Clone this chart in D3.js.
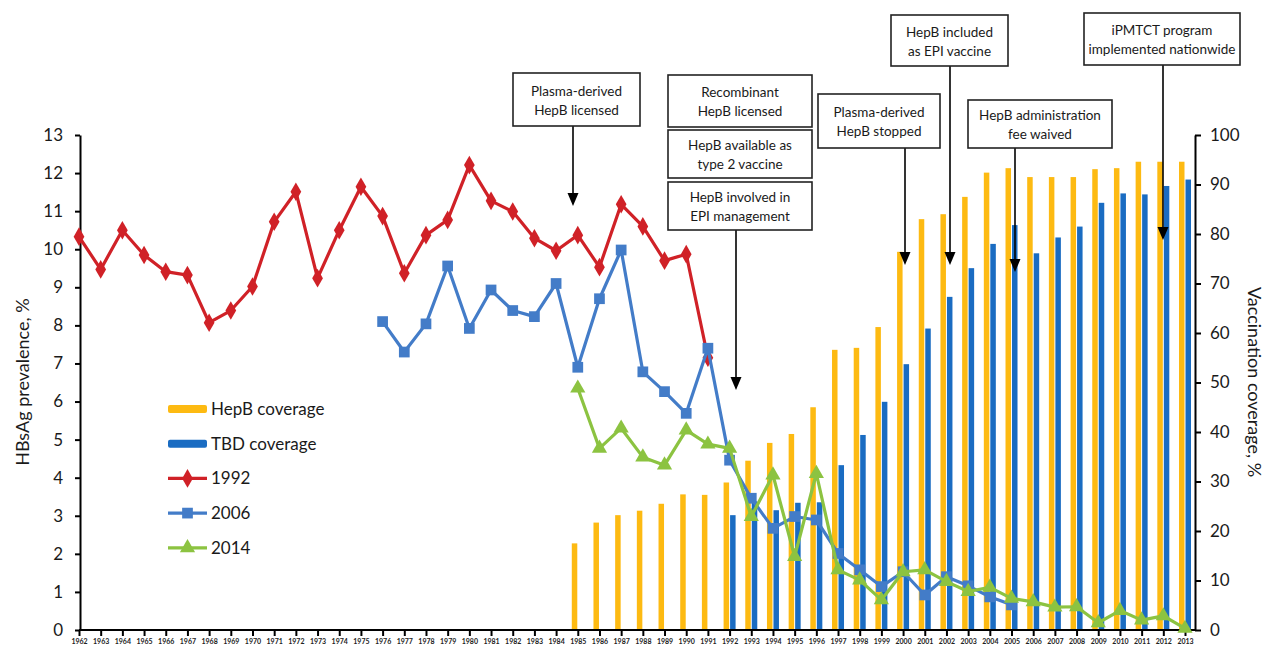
<!DOCTYPE html>
<html>
<head>
<meta charset="utf-8">
<script src="https://cdn.jsdelivr.net/npm/d3@7/dist/d3.min.js"></script>
<style>
	body { margin: 0; background: #fff; }
	svg text { font-family: Lato, "Open Sans", sans-serif; fill: #1a1a1a; }
</style>
</head>
<body>
<svg id="chart" width="1267" height="649"></svg>
<script>
// Birth-year categories on the x axis
const years = d3.range(1962, 2014);

// HBsAg prevalence (%) by birth year, one array per serosurvey
const years1992 = d3.range(1962, 1992);
const prev1992 = [10.33, 9.47, 10.5, 9.85, 9.41, 9.32, 8.07, 8.39, 9.02, 10.72, 11.51, 9.24, 10.5, 11.64, 10.87,
	9.37, 10.37, 10.77, 12.21, 11.27, 10.99, 10.29, 9.96, 10.37, 9.53, 11.18, 10.6, 9.7, 9.87, 7.15];
const years2006 = d3.range(1976, 2006);
const prev2006 = [8.1, 7.3, 8.04, 9.56, 7.92, 8.93, 8.39, 8.23, 9.1, 6.9, 8.7, 9.98, 6.78, 6.26, 5.69, 7.4,
	4.46, 3.46, 2.67, 2.98, 2.89, 2.01, 1.58, 1.14, 1.53, 0.92, 1.4, 1.16, 0.87, 0.66];
const years2014 = d3.range(1985, 2014);
const prev2014 = [6.35, 4.77, 5.3, 4.54, 4.33, 5.25, 4.88, 4.77, 2.98, 4.07, 1.93, 4.11, 1.58, 1.31, 0.79,
	1.53, 1.58, 1.27, 1.01, 1.12, 0.83, 0.74, 0.6, 0.61, 0.19, 0.51, 0.26, 0.37, 0.04];

// Vaccination coverage (%)
const hepbYears = d3.range(1985, 2014);
const hepbCoverage = [17.5, 21.7, 23.2, 24.1, 25.5, 27.4, 27.3, 29.8, 34.2, 37.8, 39.6, 45.0, 56.6, 57.0, 61.2,
	76.4, 83.0, 84.0, 87.5, 92.4, 93.3, 91.5, 91.5, 91.5, 93.1, 93.3, 94.6, 94.6, 94.6];
const tbdYears = d3.range(1992, 2014);
const tbdCoverage = [23.2, 26.0, 24.2, 25.7, 25.8, 33.3, 39.4, 46.1, 53.7, 60.9, 67.3, 73.1, 78.0, 81.8,
	76.1, 79.3, 81.5, 86.3, 88.2, 88.0, 89.7, 91.0];

// Axis ticks
const leftTicks = d3.range(0, 14);
const rightTicks = d3.range(0, 101, 10);

// Event annotations
const events = [
	['Plasma-derived', 'HepB licensed'],
	['Recombinant', 'HepB licensed'],
	['HepB available as', 'type 2 vaccine'],
	['HepB involved in', 'EPI management'],
	['Plasma-derived', 'HepB stopped'],
	['HepB included', 'as EPI vaccine'],
	['HepB administration', 'fee waived'],
	['iPMTCT program', 'implemented nationwide']
];
// box layout [x0, y0, x1, y1, arrowX, arrowTipY] (arrowX null = no arrow)
const eventLayout = [
	[513, 73, 640, 126, 573, 206],
	[668, 75, 812, 127, null, null],
	[668, 130, 812, 178, null, null],
	[668, 182, 812, 230, 736, 390],
	[818, 94, 940, 148, 905, 265],
	[891, 15, 1008, 66, 950, 265],
	[968, 100, 1112, 148, 1015, 272],
	[1084, 13, 1240, 65, 1163, 240]
];

const colors = {
	hepb: '#FDBA12',
	tbd: '#1A6CC2',
	s1992: '#D02127',
	s2006: '#437CC8',
	s2014: '#8CC341'
};

const svg = d3.select('#chart');
svg.append('rect').attr('width', 1267).attr('height', 649).attr('fill', '#fff');

const x = d3.scalePoint().domain(years).range([79, 1185]);
const yL = d3.scaleLinear().domain([0, 13]).range([630, 135]);
const yR = d3.scaleLinear().domain([0, 100]).range([630, 135]);
const barW = 5.5;

// Bars
svg.append('g').selectAll('rect')
	.data(hepbYears.map((yr, i) => ({ yr, v: hepbCoverage[i] })))
	.join('rect')
		.attr('x', d => x(d.yr) - barW - 0.5)
		.attr('y', d => yR(d.v))
		.attr('width', barW)
		.attr('height', d => yR(0) - yR(d.v))
		.attr('fill', colors.hepb);

svg.append('g').selectAll('rect')
	.data(tbdYears.map((yr, i) => ({ yr, v: tbdCoverage[i] })))
	.join('rect')
		.attr('x', d => x(d.yr) + 0.5)
		.attr('y', d => yR(d.v))
		.attr('width', barW)
		.attr('height', d => yR(0) - yR(d.v))
		.attr('fill', colors.tbd);

// Axes
const axisBottom = svg.append('g')
	.attr('transform', 'translate(0,630)')
	.call(d3.axisBottom(x).tickSize(6).tickSizeOuter(0));
axisBottom.select('.domain').attr('d', 'M79,0H1195').attr('stroke', '#000').attr('stroke-width', 2);
axisBottom.selectAll('.tick line').attr('stroke', '#000').attr('stroke-width', 2);

const axisLeft = svg.append('g')
	.attr('transform', 'translate(80,0)')
	.call(d3.axisLeft(yL).tickValues(leftTicks).tickSize(5).tickSizeOuter(0));
axisLeft.select('.domain').attr('stroke', '#000').attr('stroke-width', 2);
axisLeft.selectAll('.tick line').attr('stroke', '#000').attr('stroke-width', 2);
axisLeft.selectAll('.tick text').attr('x', -17).style('font-size', '17px');

const axisRight = svg.append('g')
	.attr('transform', 'translate(1195,0)')
	.call(d3.axisRight(yR).tickValues(rightTicks).tickSize(6).tickSizeOuter(0));
axisRight.select('.domain').attr('stroke', '#000').attr('stroke-width', 2);
axisRight.selectAll('.tick line').attr('stroke', '#000').attr('stroke-width', 2);
axisRight.selectAll('.tick text').attr('x', 15).style('font-size', '17px');

svg.selectAll('.tick text').attr('fill', null);
axisBottom.selectAll('.tick text')
	.attr('y', 9)
	.style('font-size', '7px')
	.style('font-weight', 'bold')
	.style('fill', '#222');

// Axis titles
svg.append('text')
	.attr('transform', 'translate(29,382) rotate(-90)')
	.attr('text-anchor', 'middle')
	.style('font-size', '18px')
	.text('HBsAg prevalence, %');
svg.append('text')
	.attr('transform', 'translate(1248,382) rotate(90)')
	.attr('text-anchor', 'middle')
	.style('font-size', '18px')
	.text('Vaccination coverage, %');

// Marker paths
const marker = {
	diamond: d3.symbol().type(d3.symbolDiamond).size(100),
	square: d3.symbol().type(d3.symbolSquare).size(115),
	triangle: d3.symbol().type(d3.symbolTriangle).size(100)
};

const series = [
	{ yrs: years1992, vals: prev1992, color: colors.s1992, sym: marker.diamond },
	{ yrs: years2006, vals: prev2006, color: colors.s2006, sym: marker.square },
	{ yrs: years2014, vals: prev2014, color: colors.s2014, sym: marker.triangle }
];

const line = d3.line().x(d => x(d.yr)).y(d => yL(d.v));

for (const s of series) {
	const pts = s.yrs.map((yr, i) => ({ yr, v: s.vals[i] }));
	const g = svg.append('g');
	g.append('path')
		.datum(pts)
		.attr('d', line)
		.attr('fill', 'none')
		.attr('stroke', s.color)
		.attr('stroke-width', 3.2)
		.attr('stroke-linejoin', 'round');
	g.selectAll('path.pt')
		.data(pts)
		.join('path')
			.attr('class', 'pt')
			.attr('d', s.sym)
			.attr('transform', d => 'translate(' + x(d.yr) + ',' + yL(d.v) + ')')
			.attr('fill', s.color);
}

// Legend
const legendItems = [
	{ label: 'HepB coverage', color: colors.hepb, type: 'bar' },
	{ label: 'TBD coverage', color: colors.tbd, type: 'bar' },
	{ label: '1992', color: colors.s1992, type: 'line', sym: marker.diamond },
	{ label: '2006', color: colors.s2006, type: 'line', sym: marker.square },
	{ label: '2014', color: colors.s2014, type: 'line', sym: marker.triangle }
];
const legend = svg.append('g').attr('transform', 'translate(168,409)');
legendItems.forEach((d, i) => {
	const row = legend.append('g').attr('transform', 'translate(0,' + (i * 34.7) + ')');
	if (d.type === 'bar') {
		row.append('rect').attr('x', 0).attr('y', -4).attr('width', 39).attr('height', 8)
			.attr('rx', 2).attr('fill', d.color);
	} else {
		row.append('line').attr('x1', 0).attr('x2', 39).attr('stroke', d.color).attr('stroke-width', 3.2);
		row.append('path').attr('d', d.sym).attr('transform', 'translate(19.5,0)').attr('fill', d.color);
	}
	row.append('text')
		.attr('x', 43)
		.attr('y', 6)
		.style('font-size', '17px')
		.text(d.label);
});

// Annotations
const ann = svg.append('g');
events.forEach((lines, i) => {
	const [x0, y0, x1, y1, ax, ay] = eventLayout[i];
	if (ax !== null) {
		ann.append('line')
			.attr('x1', ax).attr('x2', ax)
			.attr('y1', y1).attr('y2', ay - 8)
			.attr('stroke', '#000').attr('stroke-width', 1.6);
		ann.append('path')
			.attr('d', 'M' + (ax - 5.5) + ',' + (ay - 13) + 'L' + (ax + 5.5) + ',' + (ay - 13) + 'L' + ax + ',' + ay + 'Z')
			.attr('fill', '#000');
	}
	ann.append('rect')
		.attr('x', x0).attr('y', y0)
		.attr('width', x1 - x0).attr('height', y1 - y0)
		.attr('fill', '#fff')
		.attr('stroke', '#222')
		.attr('stroke-width', 1.6);
	const cy = (y0 + y1) / 2;
	lines.forEach((t, j) => {
		ann.append('text')
			.attr('x', (x0 + x1) / 2)
			.attr('y', cy + (j === 0 ? -4 : 15))
			.attr('text-anchor', 'middle')
			.style('font-size', '13.5px')
			.text(t);
	});
});
</script>
</body>
</html>
